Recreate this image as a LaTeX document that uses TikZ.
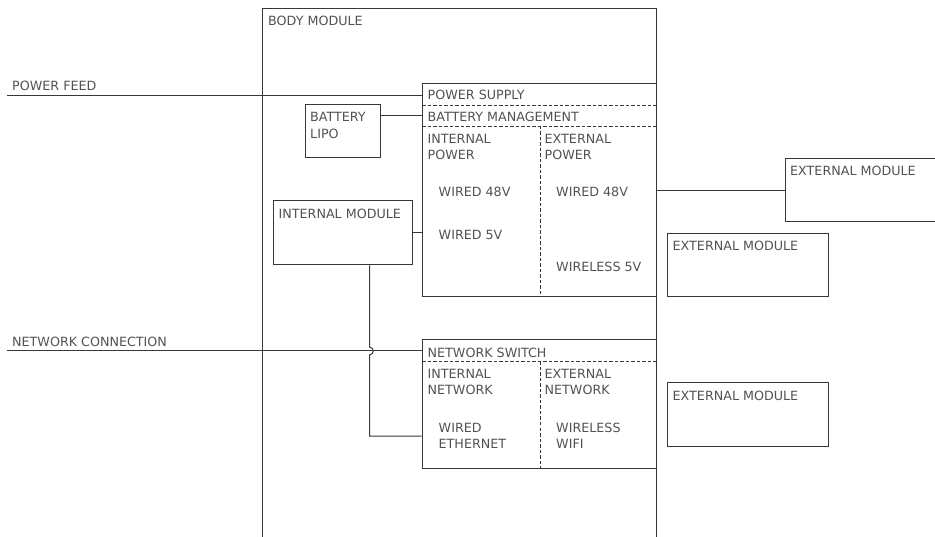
\documentclass[tikz,border=0pt]{standalone}
\usepackage{fontspec}
\setmainfont{DejaVu Sans}
\usetikzlibrary{calc}
\begin{document}
\begin{tikzpicture}[x=1pt,y=-1pt,
  ln/.style={draw=black!78, line width=1pt},
  dsh/.style={draw=black!78, line width=0.9pt, dash pattern=on 3.5pt off 2pt},
  box/.style={ln, rectangle, inner sep=0pt},
  txt/.style={anchor=base west, inner sep=0pt, text=black!68, font=\fontsize{12.7}{16}\selectfont}]
\useasboundingbox (0,0) rectangle (935,537);

% body module (open at the bottom)
\draw[ln] (262,545) -- (262,9) -- (656,9) -- (656,545);
\coordinate (bodyR) at (656,9);
\node[txt] (tbody) at (268,26) {BODY MODULE};

% power box
\node[box, minimum width=234, minimum height=213] (power) at (539,190.5) {};
\draw[dsh] (422,105) -- (656,105);
\draw[dsh] (422,126) -- (656,126);
\draw[dsh] (540,126) -- (540,297);
\node[txt] (tps) at (427.5,100) {POWER SUPPLY};
\node[txt] (tbm) at (427.5,121.5) {BATTERY MANAGEMENT};
\node[txt] (tip1) at (427.5,144) {INTERNAL};
\node[txt] (tip2) at (427.5,159.5) {POWER};
\node[txt] (tep1) at (544.5,144) {EXTERNAL};
\node[txt] (tep2) at (544.5,159.5) {POWER};
\node[txt] (tw48a) at (438.5,196.5) {WIRED 48V};
\node[txt] (tw5) at (438.5,240) {WIRED 5V};
\node[txt] (tw48b) at (556,196.5) {WIRED 48V};
\node[txt] (twl5) at (556,271.5) {WIRELESS 5V};

% network box
\node[box, minimum width=234, minimum height=128] (net) at (539,404) {};
\draw[dsh] (422,361.5) -- (656,361.5);
\draw[dsh] (540,361.5) -- (540,468);
\node[txt] (tns) at (427.5,357.5) {NETWORK SWITCH};
\node[txt] (tin1) at (427.5,378.5) {INTERNAL};
\node[txt] (tin2) at (427.5,394.5) {NETWORK};
\node[txt] (ten1) at (544.5,378.5) {EXTERNAL};
\node[txt] (ten2) at (544.5,394.5) {NETWORK};
\node[txt] (twe1) at (438.5,432.5) {WIRED};
\node[txt] (twe2) at (438.5,448.5) {ETHERNET};
\node[txt] (tww1) at (556,432.5) {WIRELESS};
\node[txt] (tww2) at (556,448.5) {WIFI};

% battery
\node[box, minimum width=75, minimum height=53] (bat) at (342.5,131.5) {};
\node[txt] (tb1) at (310,121.5) {BATTERY};
\node[txt] (tb2) at (310,138.5) {LIPO};

% internal module
\node[box, minimum width=139, minimum height=64] (intm) at (342.5,233) {};
\node[txt] (tim) at (278.5,219) {INTERNAL MODULE};

% external modules
\node[box, minimum width=160, minimum height=63] (ext1) at (865,190.5) {};
\node[txt] (te1) at (790,175.5) {EXTERNAL MODULE};
\node[box, minimum width=161, minimum height=63] (ext2) at (747.5,265.5) {};
\node[txt] (te2) at (672.5,250.5) {EXTERNAL MODULE};
\node[box, minimum width=161, minimum height=63] (ext3) at (747.5,414.5) {};
\node[txt] (te3) at (672.5,400) {EXTERNAL MODULE};

% feeds
\coordinate (pf) at (7,95.5);
\node[txt] (tpf) at (12,90.5) {POWER FEED};
\coordinate (nc) at (7,351);
\node[txt] (tnc) at (12,346.5) {NETWORK CONNECTION};

% connectors
\draw[ln] (pf) -- (pf -| power.west);
\coordinate (batc) at ([yshift=-11pt]bat.north east);
\draw[ln] (batc) -- (batc -| power.west);
\draw[ln] (intm.east) -- (intm.east -| power.west);
\draw[ln] (ext1.west -| bodyR) -- (ext1.west);
\draw[ln] (nc) -- (nc -| net.west);
\coordinate (drop) at ([xshift=27pt]intm.south);
\coordinate (eth) at (drop |- 436,436);
\draw[ln] (drop) -- ($(drop |- nc)+(0,-4)$)
  .. controls ($(drop |- nc)+(5,-3.5)$) and ($(drop |- nc)+(5,3.5)$) .. ($(drop |- nc)+(0,4)$)
  -- (eth) -- (eth -| net.west);
\end{tikzpicture}
\end{document}
